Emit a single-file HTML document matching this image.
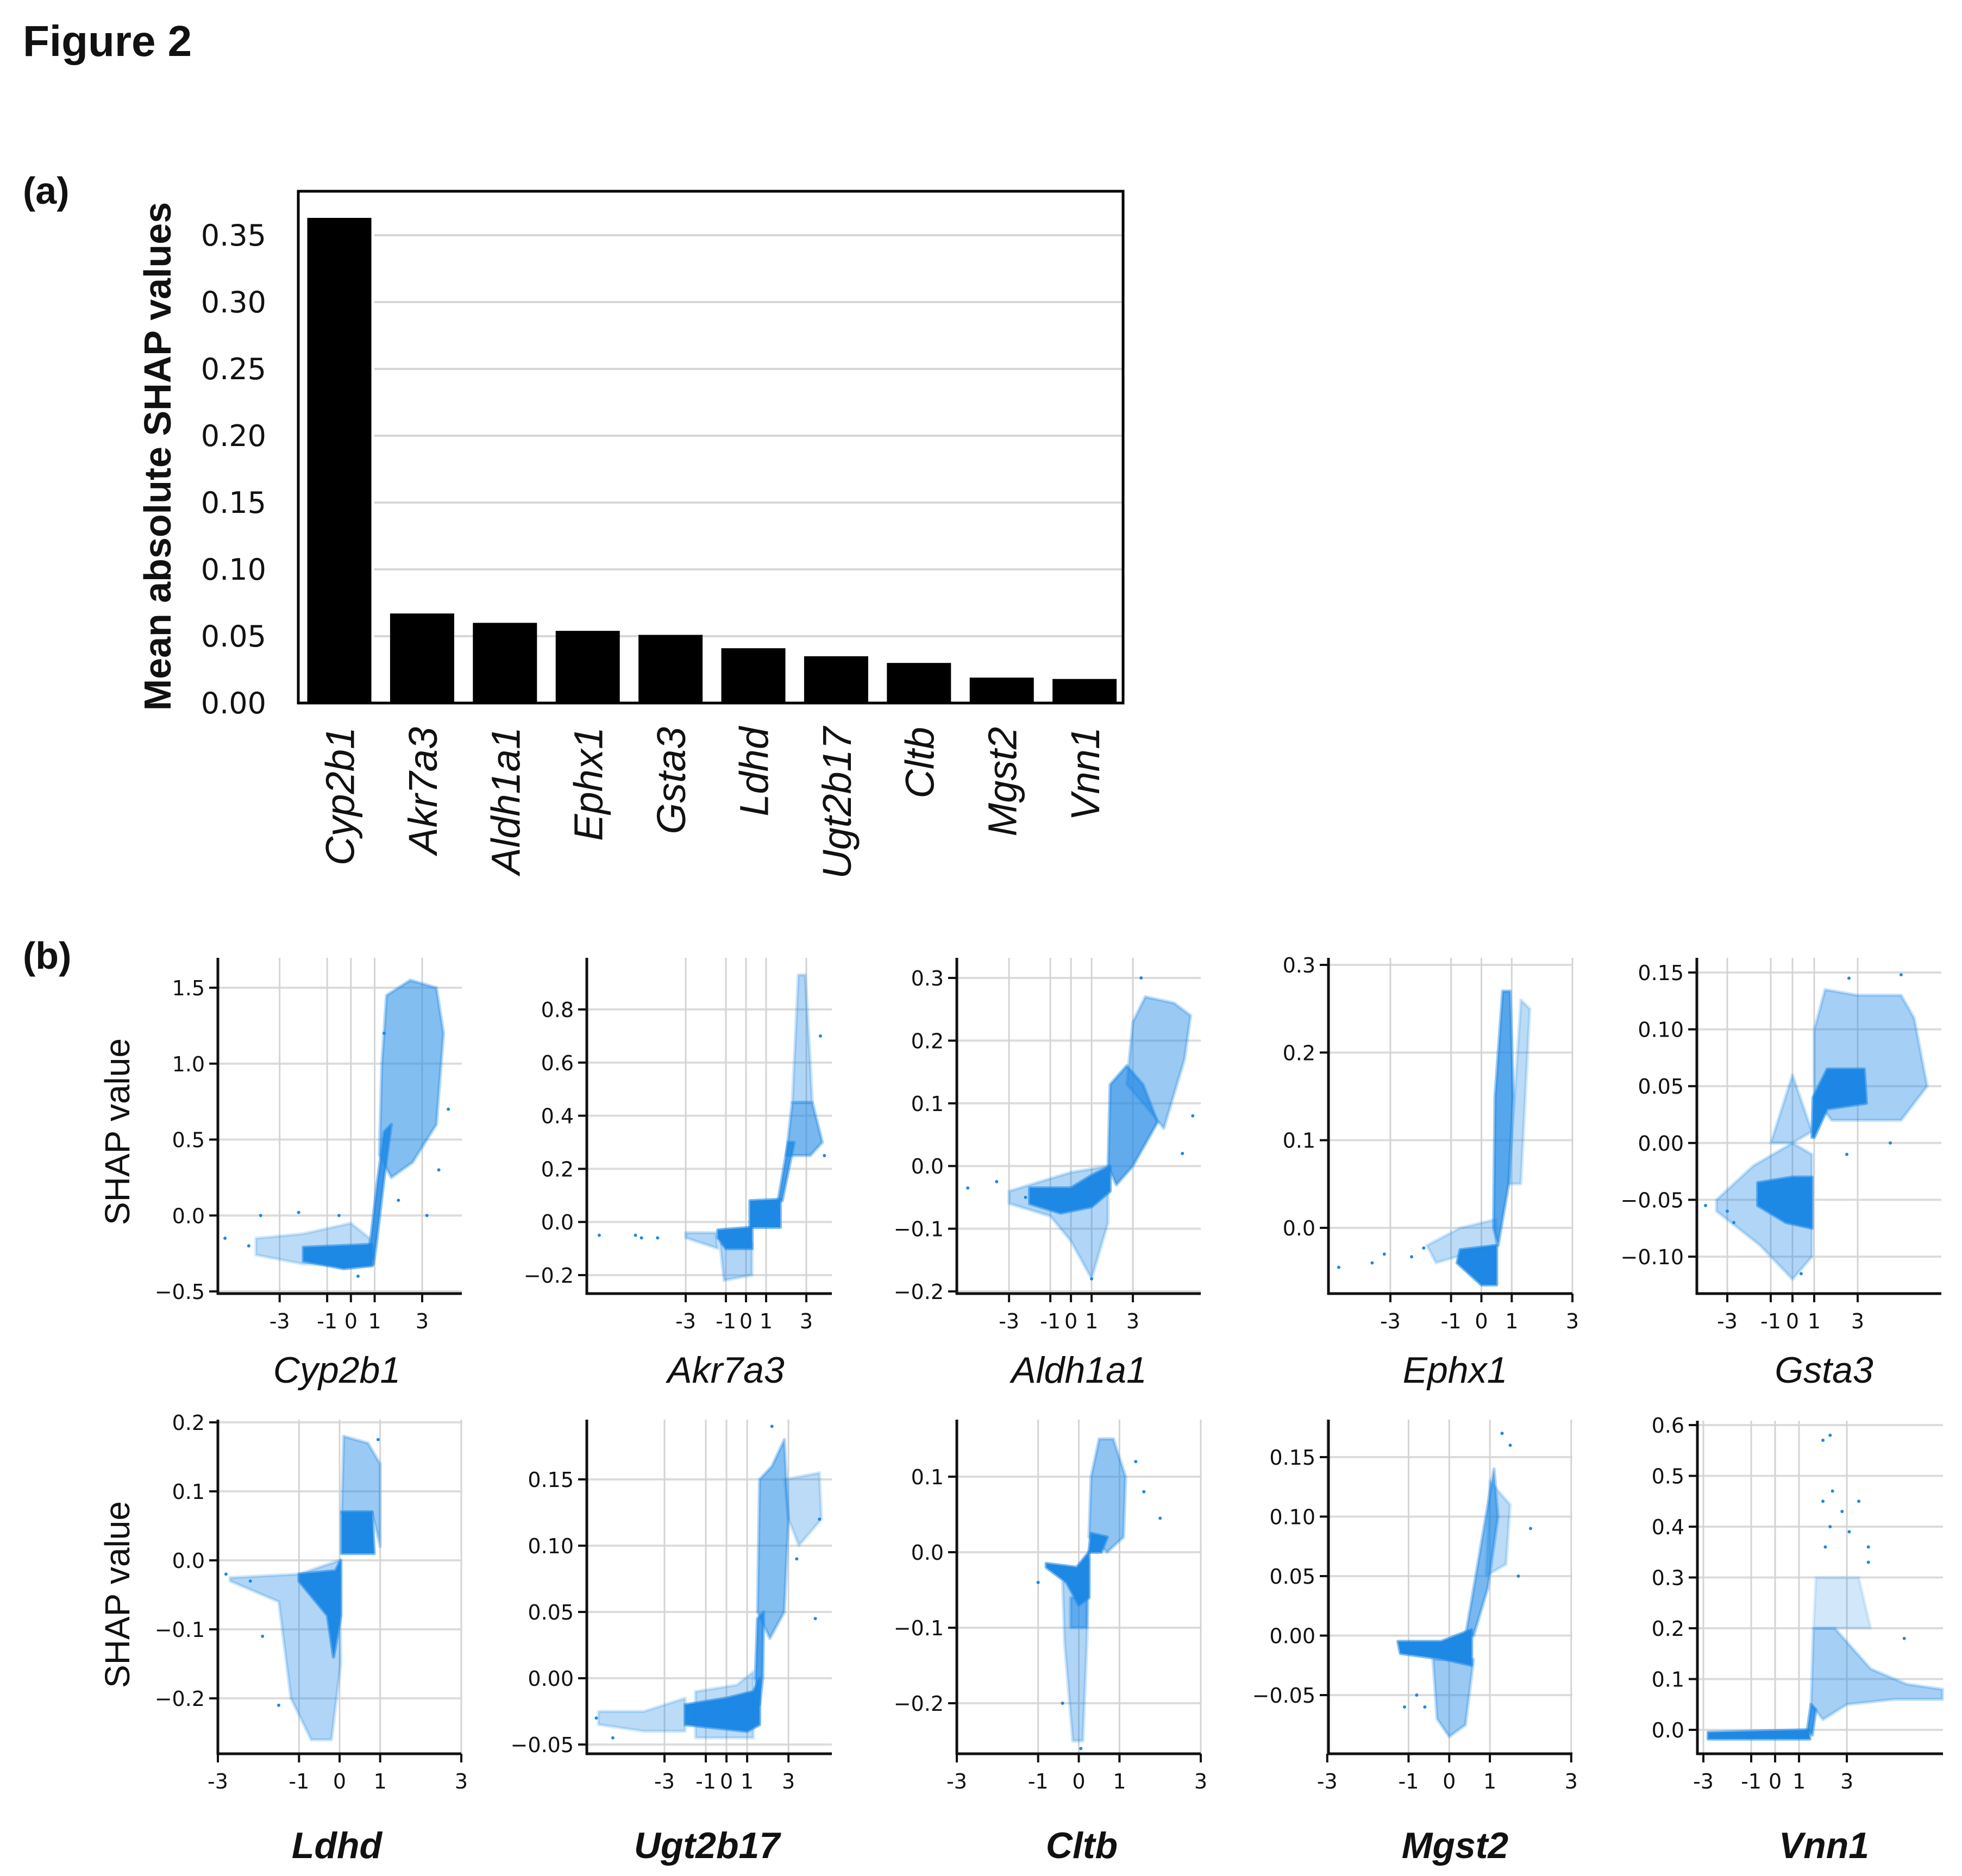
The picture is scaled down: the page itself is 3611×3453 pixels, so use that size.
<!DOCTYPE html>
<html><head><meta charset="utf-8">
<style>
html,body{margin:0;padding:0;background:#fff;}
svg{display:block;}
text{font-family:"DejaVu Sans","Liberation Sans",sans-serif;fill:#111;}
</style></head>
<body>
<svg id="fig" width="3611" height="3453" viewBox="0 0 3611 3453" xmlns="http://www.w3.org/2000/svg">
<rect width="3611" height="3453" fill="#fff"/>
<text x="42" y="103" style="font-family:'Liberation Sans',sans-serif;font-weight:bold;font-size:80px">Figure 2</text>
<text x="42" y="375" style="font-family:'Liberation Sans',sans-serif;font-weight:bold;font-size:70px">(a)</text>
<text x="42" y="1783" style="font-family:'Liberation Sans',sans-serif;font-weight:bold;font-size:70px">(b)</text>
<g id="barchart"></g>
<g id="scatters"></g>
</svg>
<script>
// ---------- Bar chart data ----------
const barGenes = ["Cyp2b1","Akr7a3","Aldh1a1","Ephx1","Gsta3","Ldhd","Ugt2b17","Cltb","Mgst2","Vnn1"];
const barValues = [0.363,0.067,0.060,0.054,0.051,0.041,0.035,0.030,0.019,0.018];
const barTicks = [0,0.05,0.10,0.15,0.20,0.25,0.30,0.35];
const barTickLabels = ["0.00","0.05","0.10","0.15","0.20","0.25","0.30","0.35"];

// ---------- Dependence plot data (regions: [alpha, x1,y1,x2,y2,...]) ----------
const cyp2b1Regions = [
 [0.3, -4,-0.15, -2,-0.12, 0,-0.05, 0.8,-0.15, 0.8,-0.33, -2,-0.32, -4,-0.26],
 [1, -2,-0.21, 0.9,-0.19, 0.9,-0.33, -0.3,-0.35, -2,-0.3],
 [0.85, 0.8,-0.2, 1.1,0.2, 1.4,0.55, 1.7,0.6, 1.4,0.25, 1.1,-0.15, 0.95,-0.32],
 [0.55, 1.2,0.4, 1.3,1.0, 1.5,1.45, 2.5,1.55, 3.6,1.5, 3.9,1.2, 3.6,0.6, 2.6,0.35, 1.7,0.25]];
const cyp2b1Points = [[-5.3,-0.15],[-4.3,-0.2],[-3.8,0.0],[-2.2,0.02],[-0.5,0.0],[0.3,-0.4],[3.7,0.3],[3.2,0.0],[4.1,0.7],[2.0,0.1],[1.4,1.2]];
const akr7a3Regions = [
 [0.35, -3,-0.04, -1.5,-0.04, -1.4,-0.1, -3,-0.06],
 [0.35, -1.3,-0.08, 0.3,-0.08, 0.3,-0.2, -1.1,-0.22],
 [1, -1.4,-0.03, 0.3,-0.02, 0.3,-0.1, -1.0,-0.1, -1.4,-0.06],
 [1, 0.2,0.08, 1.7,0.085, 1.7,-0.02, 0.2,-0.02],
 [0.8, 1.6,0.08, 2.1,0.3, 2.4,0.3, 1.8,0.08],
 [0.6, 2.0,0.25, 2.3,0.45, 3.3,0.45, 3.8,0.3, 3.2,0.25],
 [0.35, 2.3,0.45, 2.6,0.93, 2.95,0.93, 3.2,0.6, 3.3,0.45]];
const akr7a3Points = [[-7.3,-0.05],[-5.5,-0.05],[-5.2,-0.06],[-4.4,-0.06],[3.7,0.7],[3.9,0.25]];
const aldh1a1Regions = [
 [0.35, -3,-0.04, -2,-0.03, 0,-0.01, 1.8,0.0, 1.8,-0.09, 1,-0.18, 0,-0.12, -1,-0.08, -3,-0.06],
 [1, -2,-0.035, 0,-0.035, 1.0,-0.015, 1.9,0.0, 1.9,-0.04, 1.0,-0.065, -0.5,-0.075, -2,-0.06],
 [0.7, 1.8,0.0, 1.9,0.13, 2.7,0.16, 3.5,0.13, 4.2,0.07, 3.0,0.0, 2.2,-0.03],
 [0.45, 2.7,0.13, 3.0,0.23, 3.6,0.27, 5.0,0.26, 5.8,0.24, 5.5,0.17, 4.5,0.06, 3.5,0.1]];
const aldh1a1Points = [[-5.0,-0.035],[-3.6,-0.025],[-2.2,-0.05],[3.4,0.3],[5.4,0.02],[5.9,0.08],[1.0,-0.18]];
const ephx1Regions = [
 [1, -0.7,-0.025, 0.5,-0.02, 0.5,-0.065, 0.0,-0.065, -0.8,-0.04],
 [0.3, -1.8,-0.02, -0.7,0.0, 0.5,0.01, 0.5,-0.02, -1.5,-0.04],
 [0.75, 0.4,0.0, 0.45,0.15, 0.7,0.27, 0.95,0.27, 1.05,0.15, 0.9,0.05, 0.55,-0.02],
 [0.3, 0.9,0.05, 1.3,0.26, 1.6,0.25, 1.3,0.05]];
const ephx1Points = [[-4.7,-0.045],[-3.6,-0.04],[-3.2,-0.03],[-2.3,-0.033],[-1.9,-0.023]];
const gsta3Regions = [
 [0.35, -3.5,-0.05, -1.8,-0.02, 0,0.0, 0.9,-0.01, 0.9,-0.1, 0,-0.12, -1.5,-0.09, -3.5,-0.06],
 [1, -1.6,-0.035, 0,-0.03, 0.9,-0.03, 0.9,-0.075, -0.3,-0.07, -1.6,-0.055],
 [0.35, -1,0.0, 0,0.06, 0.9,0.01, 0,0.0],
 [1, 0.9,0.005, 0.95,0.04, 1.6,0.065, 3.3,0.065, 3.4,0.035, 1.6,0.03, 1.0,0.005],
 [0.4, 1.0,0.1, 1.5,0.135, 3,0.13, 5,0.13, 5.6,0.11, 6.2,0.05, 5,0.02, 3,0.02, 1.8,0.02, 1.0,0.04]];
const gsta3Points = [[-4,-0.055],[-3,-0.06],[-2.7,-0.07],[0.4,-0.115],[2.5,-0.01],[4.5,0.0],[5.0,0.148],[2.6,0.145]];
const ldhdRegions = [
 [0.35, -2.7,-0.025, -1,-0.02, 0,0.0, 0.03,-0.15, -0.2,-0.26, -0.7,-0.26, -1.2,-0.2, -1.5,-0.06, -2.7,-0.03],
 [1, -1,-0.02, -0.1,-0.015, 0.03,0.0, 0.03,-0.08, -0.15,-0.14, -0.3,-0.08, -1,-0.03],
 [1, 0.05,0.07, 0.8,0.07, 0.85,0.01, 0.05,0.01],
 [0.45, 0.05,0.07, 0.1,0.18, 0.7,0.17, 1.0,0.14, 1.0,0.02, 0.8,0.07]];
const ldhdPoints = [[-2.8,-0.02],[-2.2,-0.03],[-1.9,-0.11],[-1.5,-0.21],[0.95,0.175]];
const ugt2b17Regions = [
 [0.3, -6.2,-0.025, -4,-0.025, -2,-0.015, -2,-0.04, -4,-0.04, -6.2,-0.035],
 [1, -2,-0.02, 0,-0.015, 1.3,-0.01, 1.6,0.0, 1.6,-0.035, 1,-0.04, -2,-0.035],
 [0.3, -1.5,-0.01, 0.5,-0.005, 1.3,0.005, 1.3,-0.045, -1.5,-0.045],
 [0.8, 1.4,0.0, 1.5,0.045, 1.8,0.05, 1.75,0.0, 1.6,-0.02],
 [0.55, 1.5,0.05, 1.6,0.15, 2.2,0.16, 2.8,0.18, 3.0,0.12, 2.8,0.05, 2.1,0.03],
 [0.3, 2.8,0.15, 4.5,0.155, 4.6,0.12, 3.5,0.1, 3.0,0.12]];
const ugt2b17Points = [[-6.3,-0.03],[-5.5,-0.045],[4.5,0.12],[4.3,0.045],[3.4,0.09],[2.2,0.19]];
const cltbRegions = [
 [0.35, -0.4,-0.04, 0.25,-0.01, 0.2,-0.12, 0.1,-0.25, -0.15,-0.25, -0.35,-0.12],
 [1, -0.8,-0.015, -0.05,-0.02, 0.25,0.0, 0.25,-0.06, 0.0,-0.07, -0.3,-0.04, -0.8,-0.02],
 [0.55, -0.2,-0.06, 0.2,-0.06, 0.2,-0.1, -0.2,-0.1],
 [1, 0.25,0.0, 0.3,0.025, 0.7,0.02, 0.55,0.0],
 [0.5, 0.25,0.02, 0.3,0.1, 0.5,0.15, 0.85,0.15, 1.15,0.1, 1.1,0.02, 0.7,0.0]];
const cltbPoints = [[1.6,0.08],[2.0,0.045],[1.4,0.12],[-1.0,-0.04],[-0.4,-0.2],[0.05,-0.26]];
const mgst2Regions = [
 [1, -1.26,-0.005, -0.2,-0.005, 0.55,0.005, 0.55,-0.025, -0.1,-0.02, -1.2,-0.015],
 [0.45, -0.4,-0.02, 0.6,-0.02, 0.4,-0.075, 0.0,-0.085, -0.3,-0.07],
 [0.6, 0.4,0.0, 0.6,0.04, 0.9,0.1, 1.1,0.14, 1.2,0.1, 0.95,0.04, 0.6,0.0],
 [0.3, 0.9,0.05, 1.0,0.13, 1.5,0.11, 1.4,0.06]];
const mgst2Points = [[-1.1,-0.06],[-0.8,-0.05],[-0.6,-0.06],[1.3,0.17],[1.5,0.16],[2.0,0.09],[1.7,0.05]];
const vnn1Regions = [
 [1, -2.8,-0.005, 1.4,0.0, 1.45,-0.018, -2.8,-0.018],
 [0.85, 1.35,0.0, 1.5,0.05, 1.7,0.04, 1.55,-0.01],
 [0.4, 1.5,0.05, 1.6,0.2, 2.5,0.2, 4,0.12, 5.5,0.09, 7,0.08, 7,0.06, 5,0.06, 3,0.05, 2,0.02],
 [0.2, 1.6,0.2, 1.7,0.3, 3.5,0.3, 4,0.2]];
const vnn1Points = [[2.0,0.57],[2.3,0.58],[2.0,0.45],[2.4,0.47],[3.5,0.45],[2.8,0.43],[3.1,0.39],[2.3,0.4],[2.1,0.36],[3.9,0.36],[3.9,0.33],[5.4,0.18]];

const xTickValues = [-3,-1,0,1,3];
const xTickLabels = ["-3","-1","0","1","3"];

const NS = "http://www.w3.org/2000/svg";
function mk(tag, attrs, parent){
  const e = document.createElementNS(NS, tag);
  for (const k in attrs) e.setAttribute(k, attrs[k]);
  parent.appendChild(e);
  return e;
}

// ---------- Bar chart ----------
(function(){
  const g = document.getElementById('barchart');
  const L=549, R=2067, T=352, B=1294, yMax=0.35, yTop=433;
  const y = v => B - (v/yMax)*(B-yTop);
  const xc = i => 624.5 + i*152.4;
  barTicks.forEach((t,i)=>{
    if (t>0){
      const gl = mk('line',{x1:L+140,x2:R,y1:y(t),y2:y(t),stroke:'#d6d6d6','stroke-width':4},g);
      
      
    }
    const tl = mk('text',{x:490,y:y(t)+19,'text-anchor':'end','font-size':54},g);
    
    
    tl.textContent = barTickLabels[i];
  });
  barValues.forEach((v,i)=>{
    const r = mk('rect',{x:xc(i)-59,y:y(v),width:118,height:B-y(v),fill:'#000'},g);
    
    
    const cx = xc(i)+27;
    const t = mk('text',{x:cx,y:1338,'text-anchor':'end',transform:'rotate(-90 '+cx+' 1338)','font-size':74,'font-style':'italic',style:"font-family:'Liberation Sans',sans-serif"},g);
    
    
    t.textContent = barGenes[i];
  });
  const fr = mk('rect',{x:L,y:T,width:R-L,height:B-T,fill:'none',stroke:'#000','stroke-width':5},g);
  
  
  const yl = mk('text',{x:314,y:840,'text-anchor':'middle',transform:'rotate(-90 314 840)','font-size':70,'font-weight':'bold',style:"font-family:'Liberation Sans',sans-serif"},g);
  
  
  yl.textContent = 'Mean absolute SHAP values';
})();

// ---------- Dependence plots ----------
const panels = [
 {gene:'Cyp2b1',regions:cyp2b1Regions,points:cyp2b1Points,L:401,R:850,T:1763,B:2381,xmin:-5.6,xmax:4.67,yA:1.5,pA:1818,yB:-0.5,pB:2377,yt:[-0.5,0,0.5,1,1.5],dec:1,lx:620,ly:2545,bold:false},
 {gene:'Akr7a3',regions:akr7a3Regions,points:akr7a3Points,L:1080,R:1531,T:1763,B:2381,xmin:-7.92,xmax:4.27,yA:0.8,pA:1858,yB:-0.2,pB:2347,yt:[-0.2,0,0.2,0.4,0.6,0.8],dec:1,lx:1336,ly:2545,bold:false},
 {gene:'Aldh1a1',regions:aldh1a1Regions,points:aldh1a1Points,L:1761,R:2210,T:1763,B:2381,xmin:-5.53,xmax:6.29,yA:0.3,pA:1800,yB:-0.2,pB:2377,yt:[-0.2,-0.1,0,0.1,0.2,0.3],dec:1,lx:1986,ly:2545,bold:false},
 {gene:'Ephx1',regions:ephx1Regions,points:ephx1Points,L:2445,R:2894,T:1763,B:2381,xmin:-5.04,xmax:3.0,yA:0.3,pA:1776,yB:0.0,pB:2260,yt:[0,0.1,0.2,0.3],dec:1,lx:2678,ly:2545,bold:false},
 {gene:'Gsta3',regions:gsta3Regions,points:gsta3Points,L:3123,R:3573,T:1763,B:2381,xmin:-4.4,xmax:6.85,yA:0.15,pA:1790,yB:-0.10,pB:2313,yt:[-0.10,-0.05,0,0.05,0.10,0.15],dec:2,lx:3357,ly:2545,bold:false},
 {gene:'Ldhd',regions:ldhdRegions,points:ldhdPoints,L:401,R:849,T:2613,B:3228,xmin:-3,xmax:3,yA:0.2,pA:2618,yB:-0.2,pB:3126,yt:[-0.2,-0.1,0,0.1,0.2],dec:1,lx:620,ly:3420,bold:true},
 {gene:'Ugt2b17',regions:ugt2b17Regions,points:ugt2b17Points,L:1080,R:1531,T:2613,B:3228,xmin:-6.76,xmax:5.1,yA:0.15,pA:2723,yB:-0.05,pB:3211,yt:[-0.05,0,0.05,0.10,0.15],dec:2,lx:1301,ly:3420,bold:true},
 {gene:'Cltb',regions:cltbRegions,points:cltbPoints,L:1761,R:2210,T:2613,B:3228,xmin:-3,xmax:3,yA:0.1,pA:2718,yB:-0.2,pB:3135,yt:[-0.2,-0.1,0,0.1],dec:1,lx:1991,ly:3420,bold:true},
 {gene:'Mgst2',regions:mgst2Regions,points:mgst2Points,L:2445,R:2894,T:2613,B:3228,xmin:-2.97,xmax:3.03,yA:0.15,pA:2682,yB:-0.05,pB:3120,yt:[-0.05,0,0.05,0.10,0.15],dec:2,lx:2678,ly:3420,bold:true},
 {gene:'Vnn1',regions:vnn1Regions,points:vnn1Points,L:3124,R:3576,T:2615,B:3228,xmin:-3.25,xmax:7.02,yA:0.6,pA:2623,yB:0.0,pB:3184,yt:[0,0.1,0.2,0.3,0.4,0.5,0.6],dec:1,lx:3357,ly:3420,bold:true}
];
const BLUE = '#1e88e5';
const root = document.getElementById('scatters');
panels.forEach((p,pi)=>{
  const g = mk('g',{},root);
  
  
  const X = v => p.L + (v-p.xmin)/(p.xmax-p.xmin)*(p.R-p.L);
  const Y = v => p.pB + (v-p.yB)/(p.yA-p.yB)*(p.pA-p.pB);
  // grid
  p.yt.forEach(t=>{
    const l = mk('line',{x1:p.L,x2:p.R,y1:Y(t),y2:Y(t),stroke:'#dcdcdc','stroke-width':4},g);
    
    
  });
  xTickValues.forEach(t=>{
    const l = mk('line',{x1:X(t),x2:X(t),y1:p.T,y2:p.B,stroke:'#d4d4d4','stroke-width':3},g);
    
    
  });
  // regions
  p.regions.forEach(r=>{
    const pts=[];
    for(let i=1;i<r.length;i+=2) pts.push(X(r[i]).toFixed(1)+','+Y(r[i+1]).toFixed(1));
    const poly = mk('polygon',{points:pts.join(' '),fill:BLUE,'fill-opacity':r[0],stroke:BLUE,'stroke-opacity':r[0]*0.6,'stroke-width':6,'stroke-linejoin':'round'},g);
    
    
  });
  p.points.forEach(pt=>{
    const c = mk('circle',{cx:X(pt[0]),cy:Y(pt[1]),r:3,fill:BLUE},g);
    
    
  });
  // axes
  const ya = mk('line',{x1:p.L,x2:p.L,y1:p.T,y2:p.B+2,stroke:'#111','stroke-width':5},g);
  
  
  const xa = mk('line',{x1:p.L-2,x2:p.R,y1:p.B,y2:p.B,stroke:'#111','stroke-width':5},g);
  
  
  p.yt.forEach(t=>{
    mk('line',{x1:p.L-16,x2:p.L,y1:Y(t),y2:Y(t),stroke:'#111','stroke-width':4},g);
    let s = Math.abs(t).toFixed(p.dec);
    if (t<0) s = '\u2212'+s;
    const tl = mk('text',{x:p.L-24,y:Y(t)+14,'text-anchor':'end','font-size':38},g);
    
    
    tl.textContent = s;
  });
  xTickValues.forEach((t,i)=>{
    mk('line',{x1:X(t),x2:X(t),y1:p.B,y2:p.B+16,stroke:'#111','stroke-width':4},g);
    const tl = mk('text',{x:X(t),y:p.B+64,'text-anchor':'middle','font-size':38},g);
    
    
    tl.textContent = xTickLabels[i];
  });
  const gl = mk('text',{x:p.lx,y:p.ly,'text-anchor':'middle','font-size':68,'font-style':'italic','font-weight':p.bold?'bold':'normal',style:"font-family:'Liberation Sans',sans-serif"},g);
  
  
  gl.textContent = p.gene;
  if (pi===0 || pi===5){
    const cy = pi===0 ? 2083 : 2935;
    const yl = mk('text',{x:238,y:cy,'text-anchor':'middle',transform:'rotate(-90 238 '+cy+')','font-size':64,style:"font-family:'Liberation Sans',sans-serif"},g);
    
    
    yl.textContent = 'SHAP value';
  }
});
</script>
</body></html>
